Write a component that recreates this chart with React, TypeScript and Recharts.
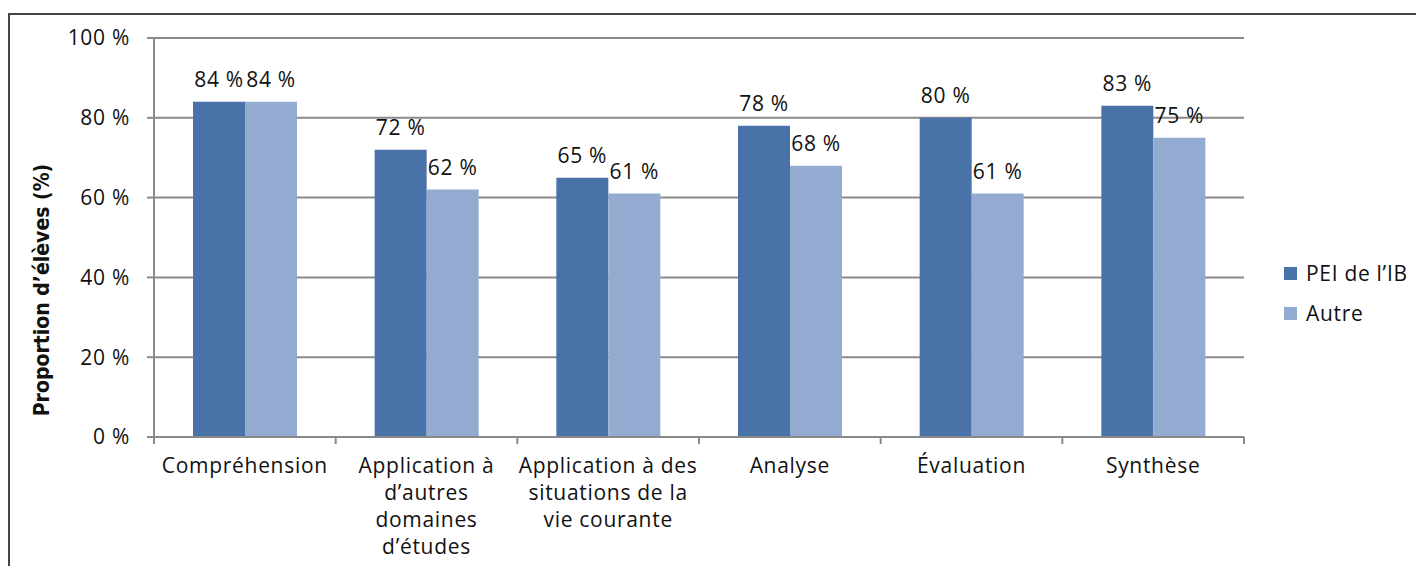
import { BarChart, Bar, XAxis, YAxis, CartesianGrid, LabelList } from "recharts";

const categories = [
  "Compréhension",
  "Application à\nd’autres\ndomaines\nd’études",
  "Application à des\nsituations de la\nvie courante",
  "Analyse",
  "Évaluation",
  "Synthèse",
];
const peiValues = [84, 72, 65, 78, 80, 83];
const autreValues = [84, 62, 61, 68, 61, 75];
const yTicks = [0, 20, 40, 60, 80, 100];

const seriesNames = ["PEI de l’IB", "Autre"];
const colors = ["#4872A8", "#94ABD1"];

const data = categories.map((name, i) => ({
  name,
  pei: peiValues[i],
  autre: autreValues[i],
}));

const FONT = "'Open Sans', sans-serif";
const FS = 21;
const LS = 0.7;
const GRID = "#8a8a8a";
const CHART_W = 1414;
const CHART_H = 550;
const MARGIN = { top: 23, right: 180, left: 44, bottom: 0 };
const Y_W = 100;
const BAND = (CHART_W - MARGIN.left - MARGIN.right - Y_W) / categories.length;

function CategoryTick(props: any) {
  const { x, y, payload, index } = props;
  const lines = String(payload.value).split("\n");
  const half = BAND / 2;
  const top = y - 8;
  return (
    <g>
      <line x1={x - half} y1={top} x2={x - half} y2={top + 7} stroke={GRID} strokeWidth={2} />
      {index === categories.length - 1 && (
        <line x1={x + half} y1={top} x2={x + half} y2={top + 7} stroke={GRID} strokeWidth={2} />
      )}
      <text
        x={x}
        y={top + 36}
        textAnchor="middle"
        fontFamily={FONT}
        fontSize={FS}
        letterSpacing={LS}
        fill="#111"
      >
        {lines.map((l, i) => (
          <tspan key={i} x={x} dy={i === 0 ? 0 : 27}>
            {l}
          </tspan>
        ))}
      </text>
    </g>
  );
}

export default function App() {
  return (
    <div
      style={{
        marginTop: 5,
        width: 1415,
        height: 552,
        borderTop: "2px solid #444",
        borderLeft: "2px solid #444",
        position: "relative",
        overflow: "hidden",
      }}
    >
      <BarChart width={CHART_W} height={CHART_H} data={data} margin={MARGIN} barGap={0} barSize={52}>
        <CartesianGrid vertical={false} stroke={GRID} strokeWidth={2} />
        <XAxis
          dataKey="name"
          interval={0}
          height={128}
          axisLine={{ stroke: GRID, strokeWidth: 2 }}
          tickLine={false}
          tick={<CategoryTick />}
        />
        <YAxis
          width={Y_W}
          domain={[0, 100]}
          ticks={yTicks}
          tickFormatter={(v: number) => `${v} %`}
          axisLine={{ stroke: GRID, strokeWidth: 2 }}
          tickLine={{ stroke: GRID, strokeWidth: 2 }}
          tickSize={7}
          tickMargin={17}
          tick={{ fontFamily: FONT, fontSize: FS, letterSpacing: LS, fill: "#111" }}
          label={{
            content: () => (
              <text
                x={32}
                y={275}
                transform="rotate(-90 32 275)"
                textAnchor="middle"
                dominantBaseline="central"
                fontFamily="'Liberation Sans Narrow', 'DejaVu Sans Condensed', sans-serif"
                fontWeight="bold"
                fontSize={21}
                fill="#111"
              >
                Proportion d’élèves (%)
              </text>
            ),
          }}
        />
        <Bar dataKey="pei" name={seriesNames[0]} fill={colors[0]} isAnimationActive={false}>
          <LabelList
            dataKey="pei"
            position="top"
            offset={15}
            formatter={(v: any) => `${v} %`}
            style={{ fontFamily: FONT, fontSize: FS, letterSpacing: LS, fill: "#111" }}
          />
        </Bar>
        <Bar dataKey="autre" name={seriesNames[1]} fill={colors[1]} isAnimationActive={false}>
          <LabelList
            dataKey="autre"
            position="top"
            offset={15}
            formatter={(v: any) => `${v} %`}
            style={{ fontFamily: FONT, fontSize: FS, letterSpacing: LS, fill: "#111" }}
          />
        </Bar>
      </BarChart>
      <div
        style={{
          position: "absolute",
          left: 1274,
          top: 238,
          fontFamily: FONT,
          fontSize: FS,
          letterSpacing: LS,
          color: "#111",
        }}
      >
        {seriesNames.map((n, i) => (
          <div key={n} style={{ display: "flex", alignItems: "center", height: 40 }}>
            <span
              style={{
                width: 13,
                height: 13,
                background: colors[i],
                marginRight: 9,
                display: "inline-block",
              }}
            />
            {n}
          </div>
        ))}
      </div>
    </div>
  );
}
